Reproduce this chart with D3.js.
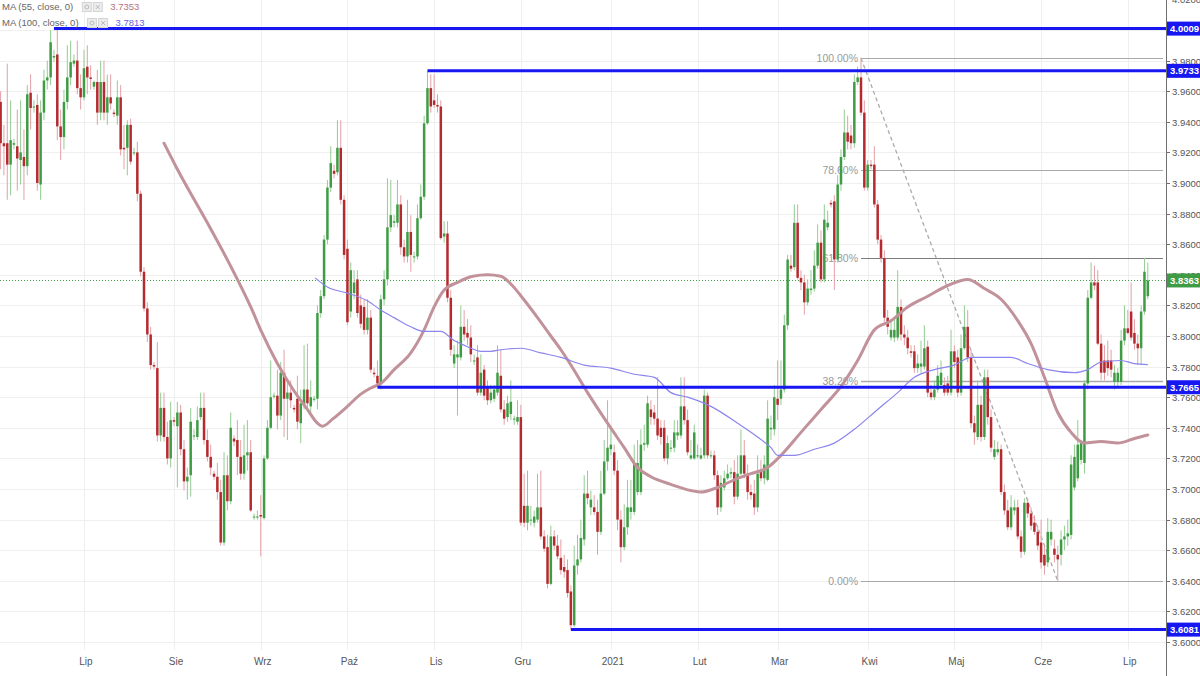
<!DOCTYPE html>
<html><head><meta charset="utf-8">
<script src="https://cdnjs.cloudflare.com/ajax/libs/d3/7.8.5/d3.min.js"></script>
<style>
html,body{margin:0;padding:0;background:#fff;}
svg{display:block;font-family:"Liberation Sans",Arial,sans-serif;}
</style></head><body>
<svg id="c" width="1200" height="676"></svg>
<script>
// ---------- DATA (USD/PLN daily) ----------
const startDate = "2020-06-02"; // first candle; one candle per day, Saturdays excluded
const open = [
3.953,3.926,3.926,3.912,3.925,3.924,3.915,3.917,3.911,3.959,
3.950,3.951,3.899,3.946,3.967,3.969,3.982,3.984,3.937,3.930,
3.953,3.969,3.978,3.980,3.962,3.956,3.976,3.969,3.963,3.966,
3.946,3.966,3.946,3.956,3.946,3.944,3.956,3.923,3.923,3.938,
3.920,3.920,3.893,3.842,3.818,3.801,3.781,3.779,3.735,3.753,
3.734,3.720,3.745,3.741,3.750,3.726,3.705,3.709,3.735,3.734,
3.747,3.753,3.732,3.721,3.710,3.708,3.698,3.665,3.709,3.692,
3.733,3.732,3.721,3.710,3.722,3.724,3.682,3.682,3.683,3.681,
3.720,3.740,3.761,3.761,3.748,3.776,3.759,3.763,3.753,3.759,
3.743,3.755,3.765,3.754,3.759,3.759,3.815,3.826,3.863,3.897,
3.908,3.907,3.923,3.889,3.857,3.816,3.828,3.837,3.820,3.819,
3.804,3.812,3.776,3.774,3.769,3.824,3.837,3.871,3.874,3.874,
3.886,3.858,3.852,3.868,3.852,3.852,3.877,3.891,3.939,3.962,
3.954,3.951,3.950,3.865,3.867,3.825,3.782,3.786,3.786,3.806,
3.802,3.799,3.784,3.786,3.763,3.778,3.766,3.758,3.759,3.763,
3.774,3.752,3.747,3.749,3.746,3.744,3.747,3.689,3.678,3.680,
3.678,3.680,3.688,3.669,3.662,3.638,3.669,3.663,3.655,3.649,
3.647,3.633,3.611,3.650,3.654,3.667,3.697,3.688,3.688,3.685,
3.672,3.697,3.718,3.726,3.724,3.712,3.680,3.662,3.675,3.685,
3.685,3.698,3.698,3.729,3.729,3.752,3.750,3.746,3.740,3.740,
3.720,3.727,3.727,3.735,3.735,3.754,3.745,3.720,3.720,3.722,
3.720,3.722,3.761,3.722,3.722,3.709,3.688,3.701,3.707,3.710,
3.711,3.695,3.710,3.722,3.710,3.698,3.697,3.688,3.712,3.707,
3.706,3.739,3.739,3.759,3.759,3.765,3.807,3.846,3.845,3.874,
3.838,3.835,3.822,3.830,3.831,3.846,3.861,3.837,3.871,3.887,
3.888,3.850,3.899,3.917,3.933,3.931,3.926,3.966,3.969,3.946,
3.897,3.912,3.912,3.886,3.863,3.851,3.812,3.799,3.799,3.799,
3.819,3.801,3.799,3.790,3.790,3.779,3.780,3.780,3.793,3.763,
3.760,3.765,3.768,3.768,3.769,3.763,3.790,3.786,3.763,3.792,
3.806,3.786,3.743,3.734,3.755,3.734,3.773,3.747,3.721,3.724,
3.726,3.698,3.686,3.675,3.686,3.688,3.669,3.659,3.691,3.684,
3.678,3.672,3.665,3.657,3.652,3.667,3.661,3.657,3.657,3.667,
3.669,3.670,3.701,3.707,3.719,3.717,3.769,3.825,3.835,3.835,
3.795,3.784,3.784,3.784,3.770,3.770,3.770,3.797,3.805,3.816,
3.802,3.795,3.792,3.816,3.826];
const high = [
3.960,3.938,3.978,3.954,3.929,3.948,3.954,3.935,3.964,3.971,
3.954,3.958,3.954,3.974,3.980,4.000,3.987,4.001,3.948,3.961,
3.990,3.993,3.984,3.993,3.971,3.987,3.990,3.977,3.967,3.974,
3.980,3.980,3.971,3.971,3.948,3.967,3.964,3.938,3.941,3.942,
3.923,3.927,3.895,3.845,3.822,3.806,3.783,3.796,3.763,3.763,
3.744,3.757,3.747,3.757,3.755,3.732,3.714,3.753,3.739,3.754,
3.763,3.763,3.739,3.729,3.712,3.717,3.706,3.724,3.722,3.750,
3.735,3.745,3.732,3.742,3.745,3.732,3.684,3.686,3.696,3.722,
3.745,3.784,3.763,3.778,3.783,3.791,3.771,3.771,3.755,3.774,
3.765,3.794,3.795,3.771,3.761,3.820,3.830,3.866,3.902,3.924,
3.912,3.941,3.941,3.892,3.863,3.848,3.843,3.843,3.827,3.824,
3.824,3.817,3.779,3.784,3.827,3.843,3.903,3.902,3.879,3.902,
3.892,3.863,3.889,3.879,3.855,3.886,3.899,3.944,3.973,3.971,
3.971,3.958,3.954,3.875,3.875,3.830,3.794,3.797,3.820,3.817,
3.811,3.807,3.788,3.794,3.788,3.781,3.771,3.768,3.768,3.794,
3.791,3.758,3.761,3.771,3.748,3.758,3.755,3.710,3.712,3.689,
3.686,3.710,3.712,3.673,3.670,3.676,3.673,3.670,3.667,3.657,
3.654,3.637,3.663,3.670,3.680,3.709,3.712,3.699,3.696,3.693,
3.712,3.732,3.758,3.739,3.729,3.719,3.686,3.690,3.706,3.706,
3.729,3.732,3.739,3.742,3.761,3.758,3.755,3.773,3.745,3.745,
3.735,3.732,3.745,3.745,3.773,3.773,3.752,3.732,3.742,3.729,
3.727,3.765,3.763,3.725,3.725,3.712,3.709,3.712,3.716,3.714,
3.719,3.722,3.739,3.732,3.716,3.703,3.706,3.722,3.719,3.722,
3.758,3.748,3.768,3.784,3.784,3.814,3.853,3.853,3.886,3.886,
3.843,3.840,3.837,3.843,3.856,3.873,3.869,3.886,3.882,3.889,
3.892,3.905,3.922,3.948,3.944,3.938,3.971,3.976,3.982,3.954,
3.915,3.915,3.924,3.889,3.866,3.856,3.817,3.811,3.812,3.843,
3.824,3.807,3.804,3.794,3.794,3.788,3.797,3.807,3.797,3.768,
3.771,3.781,3.784,3.773,3.774,3.804,3.794,3.791,3.801,3.820,
3.817,3.791,3.748,3.771,3.761,3.778,3.778,3.752,3.732,3.731,
3.729,3.703,3.693,3.696,3.693,3.693,3.673,3.694,3.694,3.688,
3.683,3.676,3.680,3.663,3.681,3.680,3.667,3.663,3.673,3.676,
3.680,3.722,3.729,3.745,3.732,3.771,3.830,3.848,3.846,3.843,
3.801,3.794,3.797,3.791,3.781,3.779,3.804,3.820,3.817,3.835,
3.811,3.801,3.820,3.851,3.848];
const low = [
3.909,3.905,3.889,3.892,3.922,3.895,3.899,3.889,3.905,3.935,
3.946,3.895,3.889,3.941,3.961,3.964,3.979,3.928,3.915,3.922,
3.948,3.964,3.976,3.958,3.948,3.954,3.958,3.961,3.961,3.938,
3.941,3.941,3.938,3.948,3.943,3.938,3.918,3.909,3.905,3.912,
3.918,3.888,3.839,3.816,3.796,3.778,3.778,3.731,3.731,3.731,
3.716,3.714,3.741,3.701,3.722,3.699,3.693,3.695,3.732,3.732,
3.745,3.729,3.718,3.709,3.706,3.693,3.663,3.663,3.686,3.690,
3.728,3.709,3.706,3.706,3.712,3.685,3.680,3.680,3.656,3.680,
3.719,3.739,3.759,3.739,3.745,3.734,3.732,3.753,3.750,3.739,
3.730,3.752,3.752,3.750,3.757,3.752,3.812,3.824,3.860,3.894,
3.903,3.905,3.886,3.850,3.807,3.812,3.824,3.812,3.805,3.801,
3.801,3.776,3.773,3.767,3.765,3.820,3.833,3.868,3.871,3.871,
3.853,3.848,3.848,3.842,3.848,3.850,3.876,3.889,3.938,3.946,
3.949,3.946,3.863,3.861,3.822,3.787,3.779,3.748,3.784,3.797,
3.794,3.783,3.781,3.761,3.761,3.758,3.755,3.756,3.757,3.761,
3.750,3.742,3.744,3.745,3.742,3.742,3.676,3.675,3.673,3.676,
3.675,3.678,3.667,3.659,3.635,3.637,3.660,3.654,3.644,3.642,
3.629,3.608,3.610,3.644,3.652,3.663,3.690,3.683,3.683,3.657,
3.670,3.696,3.712,3.722,3.709,3.673,3.652,3.660,3.670,3.680,
3.683,3.696,3.696,3.725,3.727,3.742,3.742,3.732,3.729,3.718,
3.716,3.724,3.724,3.732,3.733,3.742,3.722,3.719,3.719,3.720,
3.719,3.720,3.720,3.720,3.706,3.683,3.685,3.699,3.706,3.707,
3.690,3.693,3.709,3.707,3.693,3.693,3.683,3.685,3.705,3.703,
3.705,3.732,3.735,3.745,3.755,3.763,3.804,3.842,3.843,3.837,
3.830,3.814,3.820,3.827,3.829,3.844,3.835,3.835,3.869,3.884,
3.830,3.848,3.895,3.915,3.922,3.922,3.923,3.964,3.944,3.895,
3.895,3.909,3.884,3.860,3.848,3.809,3.801,3.797,3.796,3.797,
3.797,3.794,3.788,3.786,3.776,3.776,3.776,3.778,3.760,3.758,
3.758,3.763,3.766,3.761,3.761,3.761,3.779,3.760,3.761,3.791,
3.783,3.740,3.729,3.732,3.731,3.732,3.742,3.724,3.719,3.722,
3.696,3.683,3.673,3.673,3.683,3.667,3.655,3.657,3.681,3.673,
3.670,3.660,3.648,3.644,3.649,3.663,3.652,3.640,3.650,3.660,
3.663,3.667,3.699,3.705,3.716,3.710,3.765,3.824,3.830,3.794,
3.771,3.771,3.774,3.773,3.765,3.766,3.768,3.794,3.801,3.797,
3.791,3.781,3.781,3.814,3.824];
const close = [
3.926,3.924,3.912,3.928,3.926,3.916,3.920,3.911,3.958,3.949,
3.950,3.900,3.946,3.967,3.969,3.992,3.983,3.937,3.930,3.953,
3.969,3.979,3.980,3.962,3.956,3.975,3.969,3.968,3.966,3.946,
3.966,3.946,3.956,3.952,3.945,3.956,3.922,3.922,3.938,3.914,
3.920,3.893,3.842,3.818,3.801,3.781,3.780,3.735,3.753,3.734,
3.720,3.745,3.744,3.750,3.726,3.705,3.708,3.744,3.735,3.745,
3.753,3.732,3.721,3.714,3.708,3.698,3.665,3.709,3.692,3.740,
3.731,3.721,3.710,3.722,3.724,3.686,3.682,3.682,3.682,3.720,
3.740,3.760,3.761,3.748,3.776,3.759,3.763,3.758,3.752,3.744,
3.756,3.765,3.756,3.760,3.759,3.815,3.826,3.863,3.897,3.913,
3.906,3.923,3.889,3.853,3.809,3.843,3.835,3.815,3.808,3.804,
3.812,3.778,3.775,3.769,3.824,3.837,3.871,3.879,3.875,3.886,
3.858,3.852,3.868,3.853,3.852,3.877,3.891,3.939,3.962,3.950,
3.951,3.950,3.864,3.867,3.825,3.791,3.788,3.788,3.806,3.801,
3.799,3.788,3.784,3.763,3.776,3.761,3.758,3.763,3.765,3.776,
3.752,3.746,3.756,3.757,3.746,3.747,3.678,3.678,3.689,3.680,
3.682,3.688,3.669,3.661,3.638,3.669,3.663,3.656,3.647,3.646,
3.632,3.611,3.650,3.654,3.668,3.697,3.694,3.693,3.685,3.672,
3.697,3.718,3.727,3.729,3.712,3.680,3.662,3.675,3.688,3.688,
3.717,3.717,3.729,3.730,3.756,3.747,3.746,3.735,3.734,3.720,
3.730,3.727,3.737,3.737,3.754,3.745,3.724,3.722,3.737,3.722,
3.722,3.761,3.722,3.722,3.709,3.688,3.704,3.707,3.710,3.711,
3.695,3.710,3.722,3.710,3.698,3.696,3.688,3.710,3.707,3.716,
3.746,3.740,3.760,3.755,3.765,3.807,3.850,3.844,3.874,3.838,
3.835,3.822,3.831,3.831,3.846,3.861,3.837,3.876,3.874,3.886,
3.850,3.899,3.917,3.933,3.927,3.926,3.966,3.969,3.946,3.897,
3.912,3.911,3.886,3.863,3.851,3.812,3.806,3.804,3.804,3.819,
3.801,3.799,3.792,3.789,3.779,3.782,3.782,3.792,3.763,3.760,
3.765,3.774,3.776,3.763,3.763,3.790,3.783,3.763,3.792,3.806,
3.786,3.743,3.737,3.755,3.734,3.773,3.747,3.727,3.726,3.726,
3.698,3.686,3.675,3.688,3.688,3.669,3.659,3.691,3.684,3.676,
3.672,3.663,3.652,3.650,3.672,3.672,3.657,3.654,3.667,3.669,
3.671,3.716,3.721,3.729,3.730,3.769,3.825,3.835,3.833,3.795,
3.776,3.776,3.779,3.778,3.776,3.776,3.797,3.805,3.802,3.799,
3.795,3.792,3.816,3.842,3.8363];

// Moving averages (candle index, value)
const ma55Idx = [49,53,62,66,71,75,78.4,83,87.7,92,95,96.5,99.7,104,108,111,114,118,123,127,130,133,137,141.6,146,150,153,157,161,165,168,171,176,182,187,191,195,201,207,210,215,220,225,230,234,240,246,252,257,262,267,272,278,284,290,295,300,305,309,313,317,321,325,330,335,340,344];
const ma55Val = [3.926,3.909,3.874,3.858,3.837,3.819,3.802,3.782,3.765,3.752,3.743,3.741,3.746,3.754,3.762,3.766,3.769,3.778,3.789,3.804,3.819,3.830,3.835,3.839,3.840,3.839,3.834,3.8235,3.812,3.800,3.791,3.781,3.763,3.743,3.727,3.714,3.708,3.703,3.699,3.698,3.701,3.706,3.710,3.714,3.722,3.737,3.752,3.767,3.784,3.804,3.810,3.819,3.826,3.833,3.837,3.831,3.824,3.810,3.795,3.773,3.750,3.737,3.730,3.731,3.730,3.733,3.7353];
const ma100Idx = [94.3,98,104,110,114,118,123,127,132,136,140,144,147,150,156,162,168,175,183,190,196,201,206,213,221,227,231,233,238,244,250,256,263,269,274,280,286,291,297,303,308,314,322,326,330,336,340,344];
const ma100Val = [3.838,3.832,3.828,3.823,3.817,3.812,3.806,3.803,3.803,3.797,3.793,3.790,3.790,3.791,3.792,3.789,3.786,3.781,3.779,3.775,3.773,3.763,3.760,3.754,3.743,3.734,3.727,3.722,3.722,3.726,3.730,3.739,3.752,3.763,3.773,3.778,3.781,3.786,3.786,3.786,3.782,3.778,3.776,3.778,3.783,3.784,3.782,3.7813];

// Horizontal support/resistance levels and the candle they start from
const levels = [4.0009, 3.9733, 3.7665, 3.6081];
const levelStart = [16, 128, 113, 171];
const lastPrice = 3.8363;

// Fibonacci retracement
const fibLabels = ["100.00%","78.60%","61.80%","38.20%","0.00%"];
const fibRatios = [1, 0.786, 0.618, 0.382, 0];
const fibHigh = 3.9816, fibLow = 3.6400, fibFrom = 258, fibTo = 317;

const monthLabels = ["2021","Lut","Mar","Kwi","Maj","Cze","Lip","Sie","Wrz","Paź","Lis","Gru"];
const legendRows = [
  {label:"MA (55, close, 0)", value:"3.7353", color:"#b3737c"},
  {label:"MA (100, close, 0)", value:"3.7813", color:"#6a5fe0"}
];

// ---------- CHART ----------
const W = 1200, H = 676, axisX = 1166, plotBottom = 650;
const n = Math.min(open.length, high.length, low.length, close.length);
const svg = d3.select("#c");

// dates: every day except Saturday
const dates = [];
{ let d = new Date(startDate + "T12:00:00Z");
  while (dates.length < n) { if (d.getUTCDay() !== 6) dates.push(new Date(d)); d = new Date(d.getTime() + 86400000); } }

const x = d3.scaleLinear().domain([0, 344]).range([0.6, 1147.8]);
const y = d3.scaleLinear().domain([3.6, 4.0196]).range([642, 0]);

// month ticks
const monthTicks = [];
for (let i = 1; i < n; i++) if (dates[i].getUTCMonth() !== dates[i-1].getUTCMonth()) monthTicks.push(i);

svg.append("defs").append("clipPath").attr("id","plot").append("rect")
  .attr("x",0).attr("y",0).attr("width",axisX).attr("height",plotBottom);

const grid = svg.append("g");
const priceTicks = d3.range(0, 22).map(i => +(3.60 + i*0.02).toFixed(2));
grid.selectAll("line.h").data(priceTicks).join("line")
  .attr("x1",0).attr("x2",axisX).attr("y1",d=>Math.round(y(d))+0.5).attr("y2",d=>Math.round(y(d))+0.5)
  .attr("stroke","#efefef");
grid.selectAll("line.v").data(monthTicks).join("line")
  .attr("x1",d=>Math.round(x(d))+0.5).attr("x2",d=>Math.round(x(d))+0.5).attr("y1",0).attr("y2",plotBottom)
  .attr("stroke","#efefef");

const plot = svg.append("g").attr("clip-path","url(#plot)");

// Fibonacci
const fx1 = x(fibFrom), fx2 = 1163;
const fib = plot.append("g");
fibRatios.forEach((r,i) => {
  const p = fibLow + r*(fibHigh - fibLow);
  const yy = Math.round(y(p)) + 0.5;
  fib.append("line").attr("x1",fx1).attr("x2",fx2).attr("y1",yy).attr("y2",yy)
    .attr("stroke", i===2 ? "#7d7d7d" : "#a9a9a9").attr("stroke-width", i===3 ? 1.5 : 1);
  fib.append("text").attr("x",fx1-3).attr("y",yy).attr("dy","0.35em").attr("text-anchor","end")
    .attr("font-size",10.5).attr("fill","#9a9a9a").text(fibLabels[i]);
});
fib.append("line").attr("x1",x(fibFrom)).attr("y1",y(fibHigh)).attr("x2",x(fibTo)).attr("y2",y(fibLow))
  .attr("stroke","#ababab").attr("stroke-width",1.3).attr("stroke-dasharray","4,3");

// green dotted last price line
plot.append("line").attr("x1",0).attr("x2",axisX).attr("y1",Math.round(y(lastPrice))+0.5).attr("y2",Math.round(y(lastPrice))+0.5)
  .attr("stroke","#3f9c44").attr("stroke-dasharray","1,2");

// candles
const idx = d3.range(n);
const up = i => close[i] >= open[i];
plot.append("g").selectAll("line").data(idx).join("line")
  .attr("x1",i=>x(i)).attr("x2",i=>x(i)).attr("y1",i=>y(high[i])).attr("y2",i=>y(low[i]))
  .attr("stroke",i=>up(i) ? "#93cc93" : "#e2a0a6").attr("stroke-width",1);
plot.append("g").selectAll("rect").data(idx).join("rect")
  .attr("x",i=>x(i)-1.25).attr("width",2.5)
  .attr("y",i=>y(Math.max(open[i],close[i])))
  .attr("height",i=>Math.max(1, Math.abs(y(open[i])-y(close[i]))))
  .attr("fill",i=>up(i) ? "#3f9c44" : "#b52a2e");

// moving averages
const line = d3.line().x(d=>x(d[0])).y(d=>y(d[1])).curve(d3.curveMonotoneX);
plot.append("path").attr("d", line(d3.zip(ma55Idx, ma55Val))).attr("fill","none")
  .attr("stroke","#c2929b").attr("stroke-width",3).attr("stroke-linecap","round");
plot.append("path").attr("d", line(d3.zip(ma100Idx, ma100Val))).attr("fill","none")
  .attr("stroke","#8b85ee").attr("stroke-width",1.2);

// horizontal levels
levels.forEach((lv,i) => {
  plot.append("line").attr("x1",x(levelStart[i])).attr("x2",axisX).attr("y1",y(lv)).attr("y2",y(lv))
    .attr("stroke","#1717f2").attr("stroke-width",3);
});

// right axis
svg.append("rect").attr("x",axisX).attr("y",0).attr("width",W-axisX).attr("height",H).attr("fill","#fff");
svg.append("line").attr("x1",axisX+0.5).attr("x2",axisX+0.5).attr("y1",0).attr("y2",H).attr("stroke","#6f6f6f");
const ax = svg.append("g");
priceTicks.forEach(p => {
  const yy = Math.round(y(p)) + 0.5;
  ax.append("line").attr("x1",axisX).attr("x2",axisX+4).attr("y1",yy).attr("y2",yy).attr("stroke","#6f6f6f");
  ax.append("text").attr("x",axisX+6).attr("y",yy).attr("dy","0.35em").attr("font-size",9.5)
    .attr("fill","#555").text(p.toFixed(4));
});
function tag(p, fill, txt) {
  const yy = y(p);
  svg.append("rect").attr("x",axisX+1).attr("y",yy-7).attr("width",W-axisX-1).attr("height",14).attr("fill",fill);
  svg.append("text").attr("x",axisX+4).attr("y",yy).attr("dy","0.35em").attr("font-size",9.5)
    .attr("font-weight","bold").attr("fill","#fff").text(txt);
}
levels.forEach(lv => tag(lv, "#1717f2", lv.toFixed(4)));
tag(lastPrice, "#3f9c44", lastPrice.toFixed(4));

// bottom time axis
svg.append("g").selectAll("text").data(monthTicks).join("text")
  .attr("x",i=>x(i)+2).attr("y",661).attr("dy","0.35em").attr("text-anchor","middle")
  .attr("font-size",10).attr("fill","#555")
  .text(i=>monthLabels[dates[i].getUTCMonth()]);

// legend
const lg = svg.append("g");
legendRows.forEach((r,i) => {
  const yy = 7 + i*16;
  const t = lg.append("text").attr("x",2).attr("y",yy).attr("dy","0.35em").attr("font-size",9.5)
    .attr("fill","#666").text(r.label);
  const w = t.node().getComputedTextLength();
  const bx = 2 + w + 9;
  [0,1].forEach(j => {
    const gx = bx + j*11;
    lg.append("rect").attr("x",gx).attr("y",yy-4.5).attr("width",9).attr("height",9)
      .attr("fill","#ececec").attr("stroke","#d4d4d4");
    if (j===0) lg.append("circle").attr("cx",gx+4.5).attr("cy",yy).attr("r",2).attr("fill","none").attr("stroke","#bbb");
    else { lg.append("path").attr("d",`M${gx+2.5},${yy-2}L${gx+6.5},${yy+2}M${gx+6.5},${yy-2}L${gx+2.5},${yy+2}`).attr("stroke","#bbb"); }
  });
  lg.append("text").attr("x",bx+28).attr("y",yy).attr("dy","0.35em").attr("font-size",9.5)
    .attr("fill",r.color).text(r.value);
});
</script>
</body></html>
